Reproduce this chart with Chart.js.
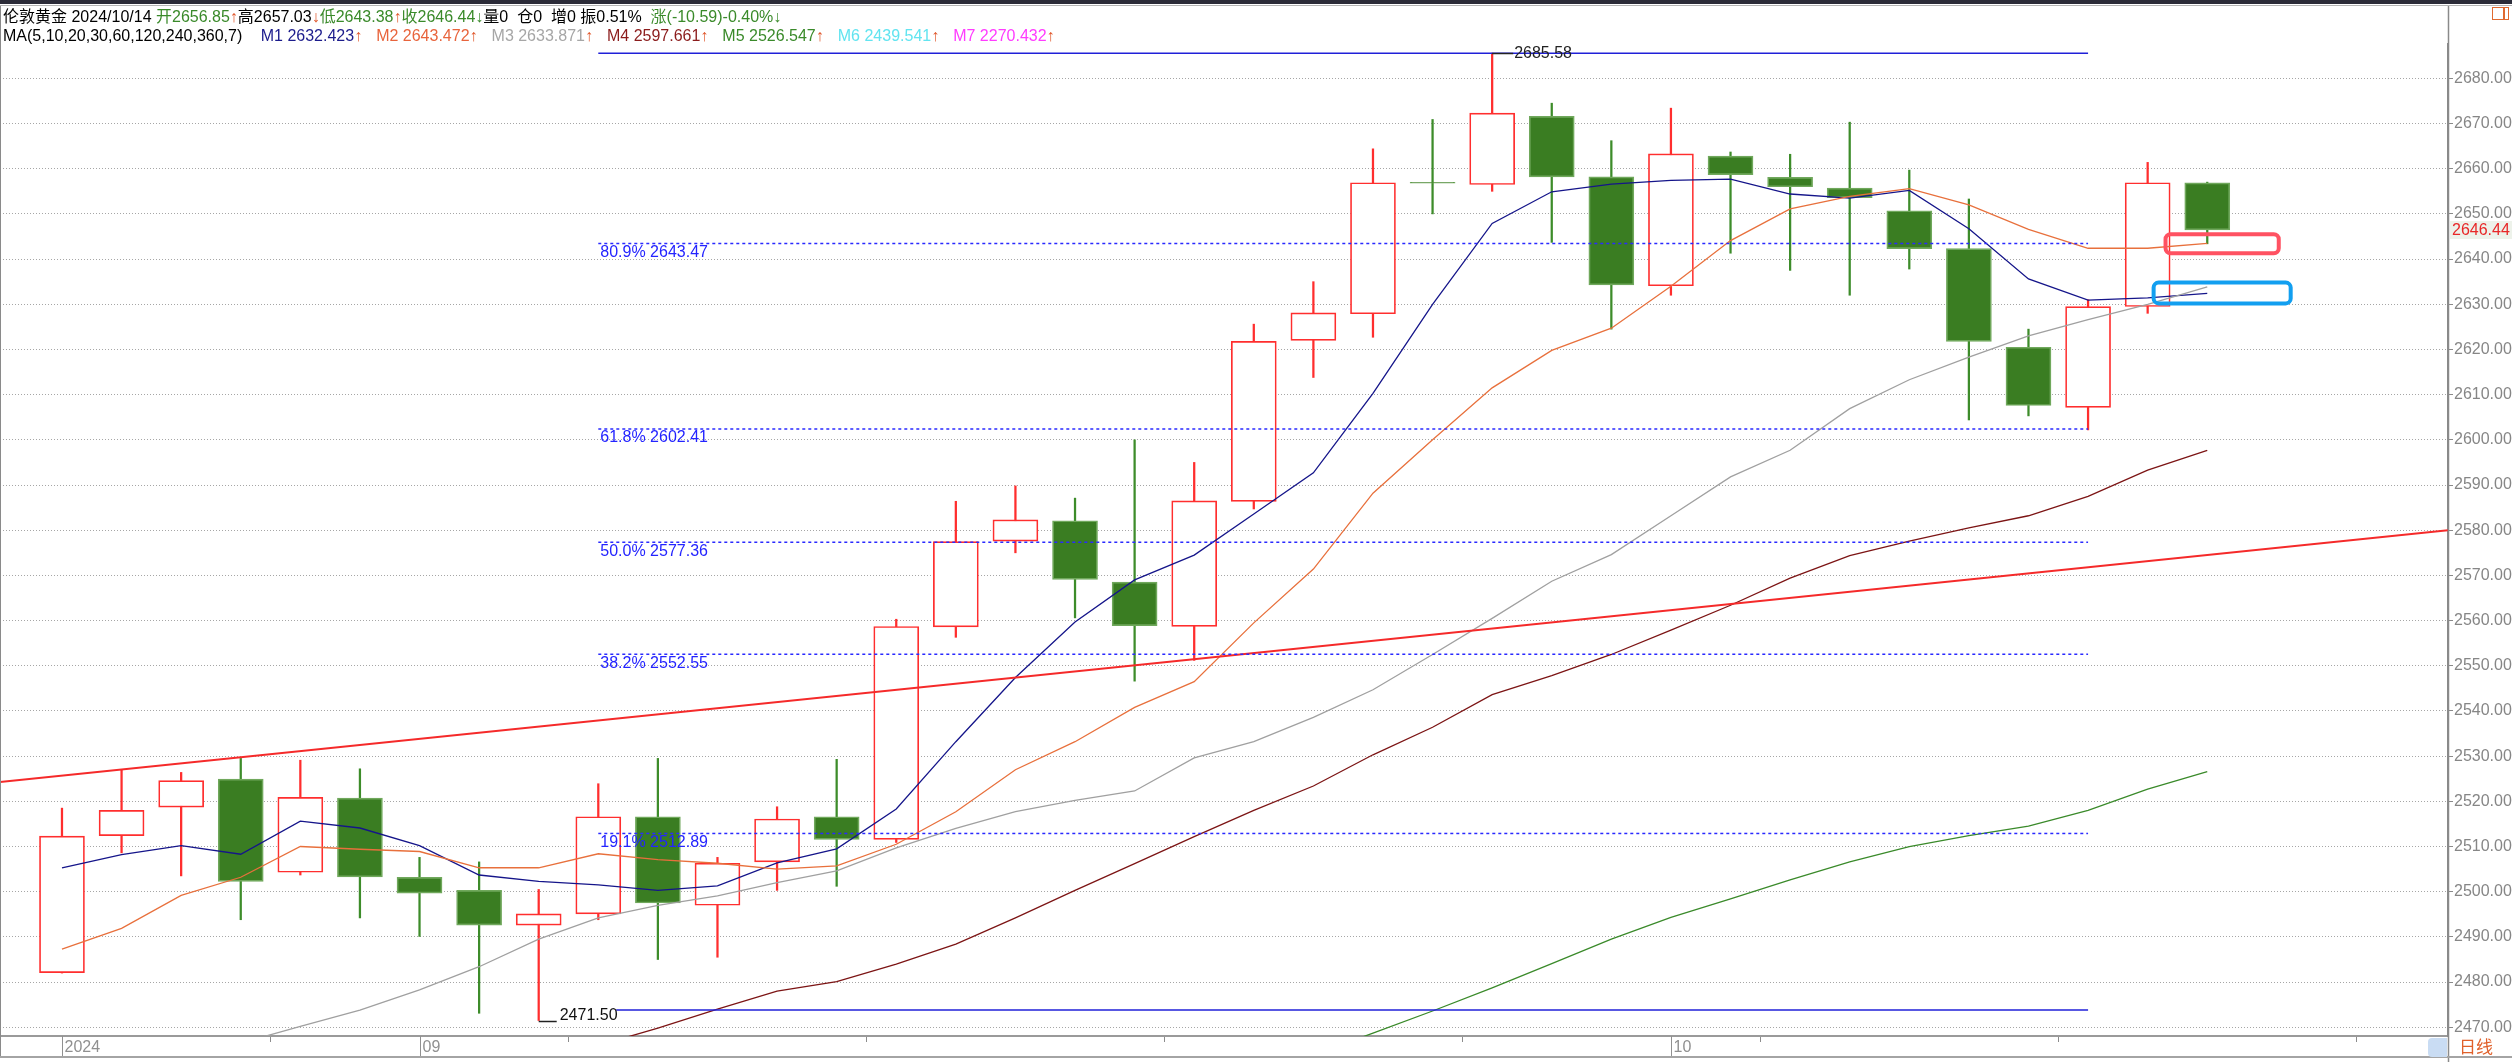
<!DOCTYPE html>
<html>
<head>
<meta charset="utf-8">
<script src="https://cdn.jsdelivr.net/npm/chart.js@4.4.1/dist/chart.umd.min.js"></script>
<style>
  html, body { margin: 0; padding: 0; background: #fff; }
  #wrap { position: relative; width: 2512px; height: 1062px; overflow: hidden;
          font-family: "Liberation Sans", Arial, "Noto Sans CJK SC", sans-serif; }
  #c { position: absolute; left: 0; top: 0; }
  #topbar { position: absolute; left: 0; top: 0; width: 2512px; height: 4px; background: #2b2b38; }
  #topline { position: absolute; left: 0; top: 5px; width: 2512px; height: 1px; background: #b4b4b4; }
  .row { position: absolute; left: 3px; font-size: 16px; line-height: 18px; white-space: nowrap; color: #000; }
  #row1 { top: 8px; }
  #row2 { top: 27px; }
  .g { color: #3a8a2a; }
  .o { color: #e0562a; }
  .ma { margin-left: 14px; }
  #icon { position: absolute; left: 2492px; top: 7px; width: 15px; height: 11px; border: 1.5px solid #e06a30; }
  #icon:after { content: ""; position: absolute; left: 10px; top: 0; width: 1.5px; height: 11px; background: #e06a30; }
  #tab { position: absolute; left: 2428px; top: 1038px; width: 19px; height: 19px; background: #c9dcf3; border-radius: 4px 0 0 4px; }
  #daily { position: absolute; left: 2459px; top: 1038px; font-size: 17px; line-height: 19px; color: #e0602a; }
</style>
</head>
<body>
<div id="wrap">
  <canvas id="c" width="2512" height="1062"></canvas>
  <div id="topbar"></div>
  <div id="topline"></div>
  <div class="row" id="row1">伦敦黄金 2024/10/14 <span class="g">开2656.85</span><span class="o">↑</span>高2657.03<span class="o">↓</span><span class="g">低2643.38</span><span class="o">↑</span><span class="g">收2646.44↓</span>量0&nbsp; 仓0&nbsp; 增0 振0.51%&nbsp; <span class="g">涨(-10.59)-0.40%↓</span></div>
  <div class="row" id="row2"></div>
  <div id="icon"></div>
  <div id="tab"></div>
  <div id="daily">日线</div>
</div>
<script>
// daily candles, 2024-08-23 .. 2024-10-14
var opens  = [2482.1, 2512.4, 2518.7, 2524.9, 2504.3, 2520.7, 2503.2, 2500.3, 2492.6, 2495.1,
              2516.6, 2497.0, 2506.6, 2516.6, 2511.6, 2558.6, 2577.6, 2582.1, 2568.5, 2558.7,
              2586.4, 2622.0, 2627.9, 2657.0, 2656.5, 2671.6, 2658.2, 2634.1, 2662.8, 2658.1,
              2655.7, 2650.7, 2642.3, 2620.5, 2607.2, 2629.5, 2656.85];
var highs  = [2518.5, 2527.0, 2526.4, 2529.5, 2529.1, 2527.2, 2507.6, 2506.6, 2500.5, 2523.9,
              2529.5, 2507.6, 2518.8, 2529.3, 2560.3, 2586.4, 2589.8, 2587.1, 2600.0, 2595.0,
              2625.6, 2635.0, 2664.4, 2670.9, 2685.58, 2674.5, 2666.2, 2673.4, 2663.7, 2663.2,
              2670.3, 2659.7, 2653.3, 2624.5, 2631.0, 2661.4, 2657.03];
var lows   = [2482.0, 2508.6, 2503.5, 2493.8, 2503.7, 2494.2, 2490.1, 2473.1, 2471.5, 2493.8,
              2485.0, 2485.5, 2500.3, 2501.2, 2510.9, 2556.3, 2575.0, 2560.6, 2546.6, 2551.2,
              2584.7, 2613.8, 2622.7, 2650.0, 2655.0, 2643.7, 2624.5, 2632.0, 2641.3, 2637.5,
              2632.0, 2637.8, 2604.4, 2605.3, 2602.2, 2628.0, 2643.38];
var closes = [2512.3, 2518.0, 2524.6, 2502.3, 2520.9, 2503.3, 2499.7, 2492.6, 2495.1, 2516.6,
              2497.5, 2506.3, 2516.1, 2511.6, 2558.7, 2577.5, 2582.3, 2569.1, 2558.9, 2586.5,
              2621.8, 2628.1, 2656.9, 2656.8, 2672.3, 2658.2, 2634.3, 2663.3, 2658.7, 2656.0,
              2653.6, 2642.3, 2621.8, 2607.6, 2629.5, 2656.9, 2646.44];

// moving averages as drawn
var ma5  = [2505.3, 2508.2, 2510.2, 2508.3, 2515.6, 2514.1, 2510.2, 2503.7, 2502.3, 2501.5,
            2500.3, 2501.3, 2506.4, 2509.5, 2518.3, 2533.2, 2547.4, 2559.7, 2569.0, 2574.5,
            2583.6, 2592.7, 2610.3, 2630.0, 2647.9, 2654.9, 2656.6, 2657.4, 2657.7, 2654.4,
            2653.5, 2655.2, 2646.7, 2635.6, 2630.9, 2631.4, 2632.42];
var ma10 = [2487.3, 2491.9, 2499.2, 2503.2, 2510.0, 2509.4, 2508.9, 2505.3, 2505.3, 2508.4,
            2507.1, 2506.3, 2505.0, 2505.7, 2510.5, 2517.7, 2527.0, 2533.2, 2540.8, 2546.5,
            2559.5, 2571.4, 2588.2, 2600.0, 2611.5, 2619.8, 2624.7, 2634.0, 2644.1, 2651.1,
            2653.9, 2655.6, 2652.0, 2646.6, 2642.4, 2642.4, 2643.47];
var ma20 = [null, null, null, 2466.5, 2470.2, 2473.8, 2478.3, 2483.4, 2489.5, 2494.2,
            2497.0, 2499.1, 2502.0, 2504.6, 2509.7, 2514.0, 2517.7, 2520.2, 2522.3, 2529.6,
            2533.2, 2538.6, 2544.7, 2552.5, 2560.5, 2568.7, 2574.6, 2583.2, 2591.8, 2597.7,
            2606.9, 2613.3, 2618.3, 2623.0, 2626.6, 2630.0, 2633.87];
var ma30 = [null, null, null, null, null, null, null, null, null, 2466.0,
            2469.8, 2474.0, 2478.0, 2480.1, 2484.0, 2488.4, 2494.2, 2500.3, 2506.2, 2512.2,
            2518.0, 2523.4, 2530.3, 2536.4, 2543.6, 2547.8, 2552.5, 2557.9, 2563.4, 2569.4,
            2574.4, 2577.6, 2580.5, 2583.2, 2587.5, 2593.3, 2597.66];
var ma60 = [null, null, null, null, null, null, null, null, null, null,
            null, null, null, null, null, null, null, null, null, null,
            null, 2463.9, 2468.7, 2473.6, 2478.7, 2484.1, 2489.5, 2494.3, 2498.4, 2502.6,
            2506.6, 2510.0, 2512.4, 2514.5, 2518.0, 2522.7, 2526.55];

var maNames  = ['M1', 'M2', 'M3', 'M4', 'M5', 'M6', 'M7'];
var maLast   = ['2632.423', '2643.472', '2633.871', '2597.661', '2526.547', '2439.541', '2270.432'];
var maColors = ['#1c1c8c', '#e8643c', '#a6a6a6', '#8b1c1c', '#3a8a2a', '#62e4f0', '#ff3cff'];

// fibonacci retracement drawn between two bars
var fibNames  = ['19.1%', '38.2%', '50.0%', '61.8%', '80.9%'];
var fibLevels = [2512.89, 2552.55, 2577.36, 2602.41, 2643.47];
var fibSpan   = [9, 34];
var swingHigh = 2685.58;
var baseLevel = 2473.8;
var baseStart = 9.3;
var highIdx = 24, lowIdx = 8;

// rising trend line (two anchors)
var trendX = [-1.04, 40.04];
var trendY = [2524.3, 2580.0];

// highlight boxes: [x0, x1, yTop, yBottom]
var redBox  = [35.3, 37.2, 2645.5, 2641.3];
var blueBox = [35.1, 37.4, 2634.8, 2630.2];

// x axis
var tickIdx   = [1, 6, 11, 16, 21, 26, 31, 36];
var xLabelIdx = [0, 6, 27];
var xLabels   = ['2024', '09', '10'];

var xMin = -1.04, xMax = 40.04, yMin = 2468.07, yMax = 2687.6;
var FONT = '"Liberation Sans", Arial, sans-serif';

// header row 2
var row2 = document.getElementById('row2');
row2.innerHTML = 'MA(5,10,20,30,60,120,240,360,7) ' + maNames.map(function (n, i) {
  return '<span class="ma" style="color:' + maColors[i] + '">' + n + ' ' + maLast[i] + '<span class="o">↑</span></span>';
}).join('');

var idx = closes.map(function (_, i) { return i; });
var pts = function (arr) { return arr.map(function (v, i) { return {x: i, y: v}; }); };
var isUp = idx.map(function (i) { return closes[i] >= opens[i]; });

function lineSet(data, color, width, dash) {
  return { type: 'line', data: data, borderColor: color, borderWidth: width, borderDash: dash || [],
           pointRadius: 0, tension: 0, spanGaps: false, order: 1 };
}

var datasets = [];
fibLevels.forEach(function (v) {
  datasets.push(lineSet([{x: fibSpan[0], y: v}, {x: fibSpan[1], y: v}], '#2a2aff', 1.5, [3, 3]));
});
datasets.push(lineSet([{x: fibSpan[0], y: swingHigh}, {x: fibSpan[1], y: swingHigh}], '#2020d8', 1.5));
datasets.push(lineSet([{x: baseStart, y: baseLevel}, {x: fibSpan[1], y: baseLevel}], '#2020d8', 1.5));
datasets.push(lineSet([{x: trendX[0], y: trendY[0]}, {x: trendX[1], y: trendY[1]}], '#f52a2a', 2));
datasets.push(lineSet(pts(ma60), '#3a8a2a', 1.3));
datasets.push(lineSet(pts(ma30), '#7c1414', 1.3));
datasets.push(lineSet(pts(ma20), '#a0a0a0', 1.3));
datasets.push(lineSet(pts(ma10), '#e8703c', 1.3));
datasets.push(lineSet(pts(ma5), '#15158a', 1.3));

datasets.push({
  type: 'bar', order: 2, grouped: false, barThickness: 45, borderWidth: 1.7, borderSkipped: false,
  data: idx.map(function (i) { return {x: i, y: [opens[i], closes[i]]}; }),
  backgroundColor: idx.map(function (i) { return isUp[i] ? '#ffffff' : '#3a7d22'; }),
  borderColor: idx.map(function (i) { return isUp[i] ? '#ff2e2e' : '#70a85c'; })
});
datasets.push({
  type: 'bar', order: 3, grouped: false, barThickness: 1.6, borderWidth: 0,
  data: idx.map(function (i) { return {x: i, y: [lows[i], highs[i]]}; }),
  backgroundColor: idx.map(function (i) { return isUp[i] ? '#ff2e2e' : '#3d8c2a'; })
});

var overlay = {
  id: 'overlay',
  afterDatasetsDraw: function (chart) {
    var ctx = chart.ctx, x = chart.scales.x, y = chart.scales.y;
    ctx.save();
    ctx.font = '16px ' + FONT;

    // fibonacci labels
    ctx.fillStyle = '#2424ff';
    ctx.textBaseline = 'top';
    ctx.textAlign = 'left';
    fibLevels.forEach(function (v, i) {
      ctx.fillText(fibNames[i] + ' ' + v.toFixed(2), x.getPixelForValue(fibSpan[0]) + 2, y.getPixelForValue(v) + 1);
    });

    // swing high / low markers
    ctx.strokeStyle = '#222';
    ctx.lineWidth = 1.5;
    var hx = x.getPixelForValue(highIdx), hy = Math.round(y.getPixelForValue(highs[highIdx])) + 0.5;
    ctx.beginPath(); ctx.moveTo(hx, hy); ctx.lineTo(hx + 21, hy); ctx.stroke();
    ctx.fillStyle = '#222';
    ctx.textBaseline = 'middle';
    ctx.fillText(highs[highIdx].toFixed(2), hx + 22, hy);
    var lx = x.getPixelForValue(lowIdx), ly = Math.round(y.getPixelForValue(lows[lowIdx])) + 0.5;
    ctx.beginPath(); ctx.moveTo(lx, ly); ctx.lineTo(lx + 18, ly); ctx.stroke();
    ctx.fillStyle = '#111';
    ctx.textBaseline = 'alphabetic';
    ctx.fillText(lows[lowIdx].toFixed(2), lx + 21, ly - 2);

    // highlight boxes
    ctx.lineWidth = 4;
    [[redBox, '#ff5262'], [blueBox, '#129ff0']].forEach(function (b) {
      var x0 = x.getPixelForValue(b[0][0]), x1 = x.getPixelForValue(b[0][1]);
      var y0 = y.getPixelForValue(b[0][2]), y1 = y.getPixelForValue(b[0][3]);
      ctx.strokeStyle = b[1];
      ctx.beginPath();
      ctx.roundRect(x0, y0, x1 - x0, y1 - y0, 5);
      ctx.stroke();
    });
    ctx.restore();
  },
  afterDraw: function (chart) {
    var ctx = chart.ctx, x = chart.scales.x, y = chart.scales.y, a = chart.chartArea;
    ctx.save();
    // frame lines
    ctx.strokeStyle = '#8a8a8a';
    ctx.lineWidth = 1.5;
    ctx.beginPath(); ctx.moveTo(y.left + 0.5, 5); ctx.lineTo(y.left + 0.5, 1062); ctx.stroke();
    ctx.lineWidth = 1;
    ctx.beginPath(); ctx.moveTo(0.5, 5); ctx.lineTo(0.5, 1057); ctx.stroke();
    ctx.strokeStyle = '#a4a4a4';
    ctx.lineWidth = 2;
    ctx.beginPath(); ctx.moveTo(0, 1057); ctx.lineTo(2512, 1057); ctx.stroke();

    // month labels with full-height ticks
    ctx.font = '16px ' + FONT;
    ctx.fillStyle = '#909090';
    ctx.strokeStyle = '#909090';
    ctx.lineWidth = 1;
    ctx.textBaseline = 'middle';
    xLabelIdx.forEach(function (v, i) {
      var px = Math.round(x.getPixelForValue(v)) + 0.5;
      ctx.beginPath(); ctx.moveTo(px, a.bottom); ctx.lineTo(px, 1056); ctx.stroke();
      ctx.fillText(xLabels[i], px + 2, a.bottom + 12);
    });

    // last price tag
    var py = y.getPixelForValue(closes[closes.length - 1]);
    ctx.fillStyle = '#edf2ea';
    ctx.fillRect(y.left + 2, py - 9, 2512 - y.left, 18);
    ctx.fillStyle = '#e82828';
    ctx.textAlign = 'left';
    ctx.fillText(closes[closes.length - 1].toFixed(2), y.left + 4, py + 1);
    ctx.restore();
  }
};

new Chart(document.getElementById('c'), {
  type: 'bar',
  data: { datasets: datasets },
  options: {
    responsive: false,
    animation: false,
    devicePixelRatio: 1,
    layout: { padding: { top: 44, left: 0, right: 0, bottom: 0 } },
    plugins: { legend: { display: false }, tooltip: { enabled: false } },
    scales: {
      x: {
        type: 'linear', min: xMin, max: xMax, offset: false,
        afterBuildTicks: function (s) { s.ticks = tickIdx.map(function (v) { return {value: v}; }); },
        afterFit: function (s) { s.height = 26; },
        ticks: { display: false },
        grid: { drawOnChartArea: false, drawTicks: true, tickLength: 6, tickColor: '#8c8c8c', tickWidth: 1 },
        border: { display: true, color: '#9a9a9a', width: 2 }
      },
      y: {
        position: 'right', min: yMin, max: yMax,
        afterFit: function (s) { s.width = 64; },
        ticks: {
          stepSize: 10, includeBounds: false, padding: 1, color: '#868686',
          font: { size: 16, family: FONT },
          callback: function (v) { return v.toFixed(2); }
        },
        grid: { color: '#a6a6a6', lineWidth: 1, tickLength: 5, tickColor: '#8a8a8a' },
        border: { display: true, color: '#8a8a8a', width: 1.5, dash: [1, 2] }
      }
    }
  },
  plugins: [overlay]
});
</script>
</body>
</html>
